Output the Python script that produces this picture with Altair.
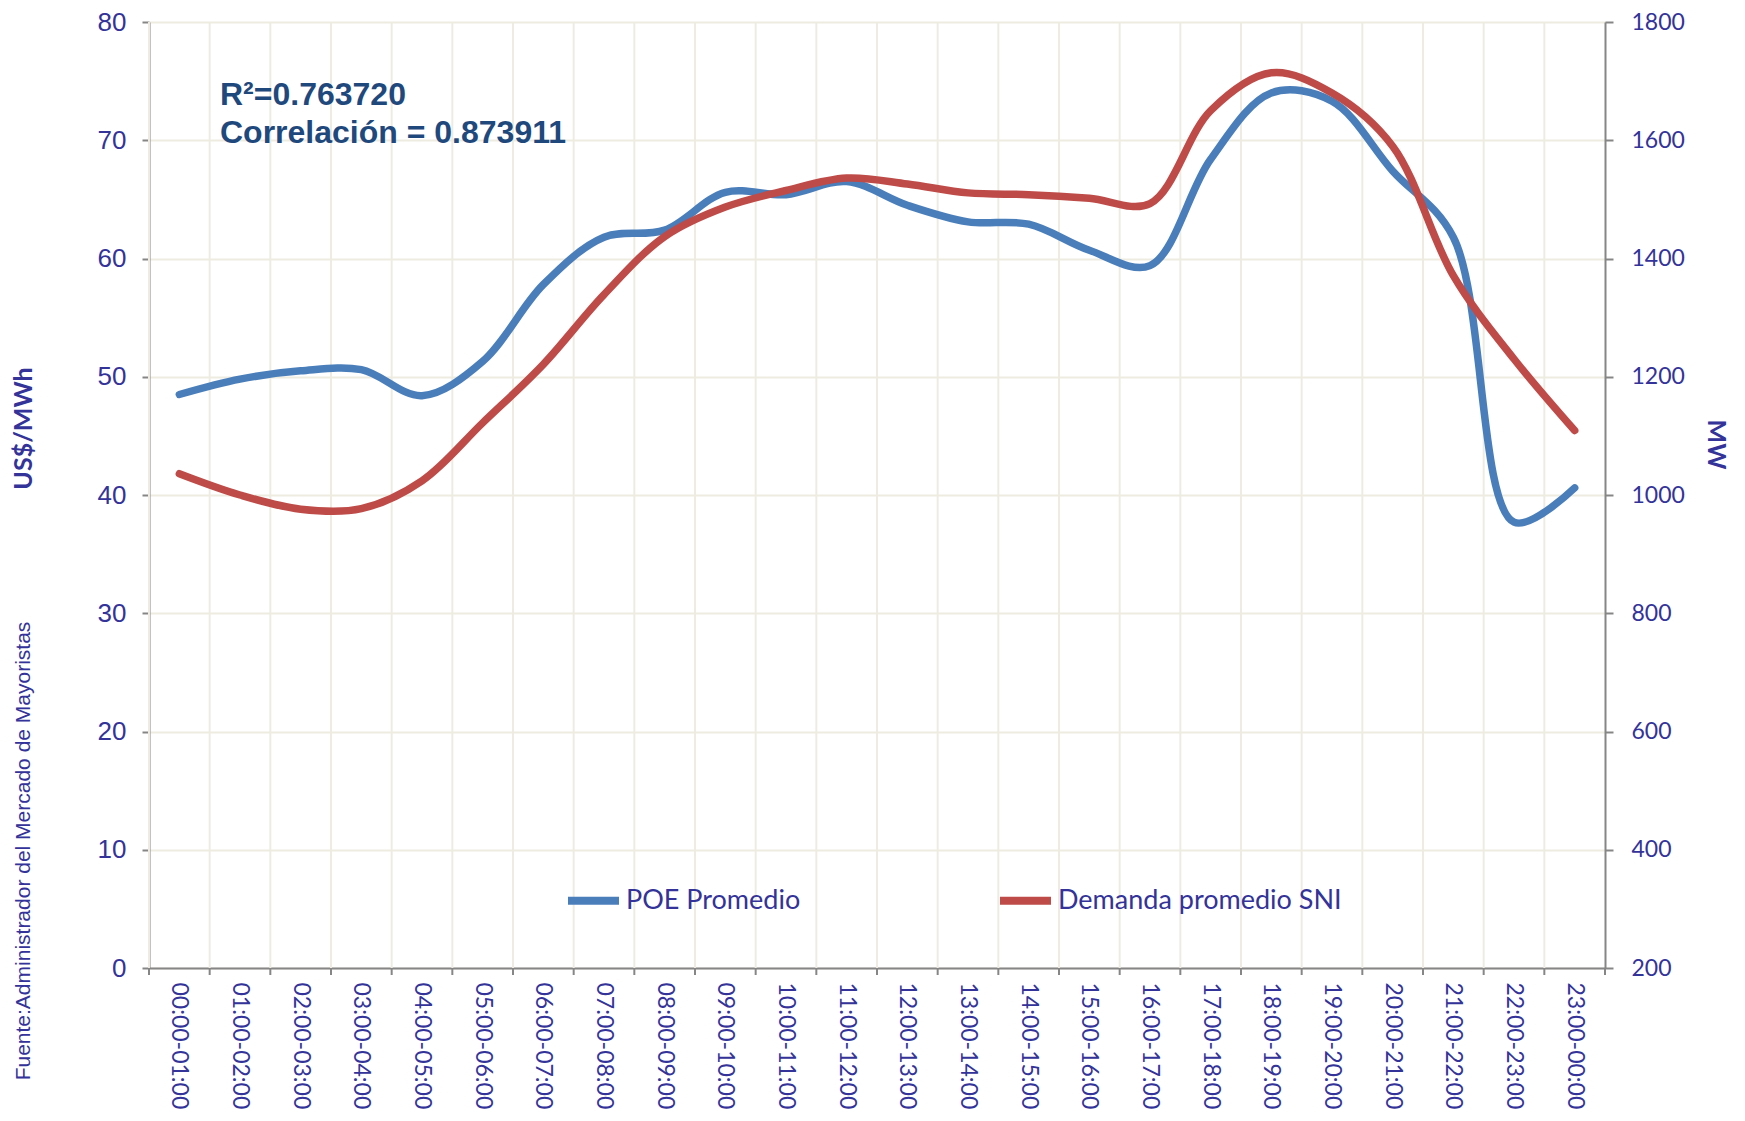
import altair as alt
import pandas as pd

hours = ["00:00-01:00", "01:00-02:00", "02:00-03:00", "03:00-04:00", "04:00-05:00",
         "05:00-06:00", "06:00-07:00", "07:00-08:00", "08:00-09:00", "09:00-10:00",
         "10:00-11:00", "11:00-12:00", "12:00-13:00", "13:00-14:00", "14:00-15:00",
         "15:00-16:00", "16:00-17:00", "17:00-18:00", "18:00-19:00", "19:00-20:00",
         "20:00-21:00", "21:00-22:00", "22:00-23:00", "23:00-00:00"]

poe = [48.5, 49.8, 50.5, 50.6, 48.4, 51.3, 57.8, 61.8, 62.4, 65.6, 65.4, 66.5,
       64.5, 63.1, 62.9, 60.7, 59.4, 68.4, 74.0, 73.3, 67.4, 61.8, 37.7, 40.6]

demanda = [1036, 1000, 976, 977, 1024, 1122, 1221, 1339, 1437, 1487, 1515, 1536,
           1526, 1511, 1508, 1502, 1493, 1650, 1714, 1680, 1590, 1371, 1230, 1109]

series = ["POE Promedio", "Demanda promedio SNI"]
annotation = ["R\u00b2=0.763720", "Correlaci\u00f3n = 0.873911"]
source = "Fuente:Administrador del Mercado de Mayoristas"

W, H = 1456, 946
TXT = "#333399"
GRID = "#EEECE1"
AX = "#868686"

df_poe = pd.DataFrame({"hora": hours, "valor": poe, "serie": series[0]})
df_dem = pd.DataFrame({"hora": hours, "valor": demanda, "serie": series[1]})
df_h = pd.DataFrame({"hora": hours})

xscale = alt.Scale(type="band", domain=hours, paddingInner=0, paddingOuter=0)
xaxis = alt.Axis(orient="bottom", title=None, labelAngle=90, labelFont="Lato",
                 labelFontSize=23, labelColor=TXT, labelPadding=14, labelLimit=300,
                 ticks=False, grid=False, domainColor=AX, domainWidth=2)

color = alt.Color(
    "serie:N",
    scale=alt.Scale(domain=series, range=["#4A7EBB", "#BE4B48"]),
    legend=alt.Legend(orient="none", legendX=415, legendY=849, direction="horizontal",
                      title=None, symbolType="stroke", symbolStrokeWidth=8,
                      symbolSize=2600, labelFont="Lato", labelFontSize=27,
                      labelColor=TXT, labelOffset=3, labelLimit=0,
                      columnPadding=183, padding=0),
)

grid_x = alt.Chart(df_h).mark_rule(color=GRID, strokeWidth=2).encode(
    x=alt.X("hora:N", scale=xscale, axis=xaxis, bandPosition=0),
    y=alt.value(0), y2=alt.value(H),
)
ticks_x = alt.Chart(df_h).mark_rule(color=AX, strokeWidth=2).encode(
    x=alt.X("hora:N", scale=xscale, axis=xaxis, bandPosition=0),
    y=alt.value(H), y2=alt.value(H + 7),
)
tick_end = alt.Chart(df_h.head(1)).mark_rule(color=AX, strokeWidth=2).encode(
    x=alt.value(W), y=alt.value(H), y2=alt.value(H + 7),
)

line_poe = alt.Chart(df_poe).mark_line(
    strokeWidth=7.5, strokeCap="round", strokeJoin="round", interpolate="catmull-rom"
).encode(
    x=alt.X("hora:N", scale=xscale, axis=xaxis),
    y=alt.Y("valor:Q", scale=alt.Scale(domain=[0, 80], nice=False),
            axis=alt.Axis(orient="left", values=list(range(0, 81, 10)),
                          labelFont="Liberation Sans", labelFontSize=26, labelColor=TXT,
                          labelPadding=16, tickColor=AX, tickSize=7, tickWidth=2,
                          domainColor=AX, domainWidth=2, grid=True, gridColor=GRID,
                          gridWidth=2, title="US$/MWh", titleFont="Lato",
                          titleFontWeight="bold", titleFontSize=25, titleColor=TXT,
                          titleX=-126, titleY=406, titleAngle=270,
                          titleBaseline="middle", titleAlign="center")),
    color=color,
)

line_dem = alt.Chart(df_dem).mark_line(
    strokeWidth=7.5, strokeCap="round", strokeJoin="round", interpolate="catmull-rom"
).encode(
    x=alt.X("hora:N", scale=xscale, axis=xaxis),
    y=alt.Y("valor:Q", scale=alt.Scale(domain=[200, 1800], nice=False),
            axis=alt.Axis(orient="right", values=list(range(200, 1801, 200)),
                          format="d",
                          labelFont="Lato", labelFontSize=23, labelColor=TXT,
                          labelPadding=18, tickColor=AX, tickSize=8, tickWidth=2,
                          domainColor=AX, domainWidth=2, grid=False,
                          title="MW", titleFont="Lato", titleFontWeight="bold",
                          titleFontSize=25, titleColor=TXT, titleX=110, titleY=422,
                          titleAngle=90, titleBaseline="middle", titleAlign="center")),
    color=color,
)

ann1 = alt.Chart(pd.DataFrame({"t": [annotation[0]]})).mark_text(
    font="Liberation Sans", fontWeight="bold", fontSize=32, color="#1F497D",
    align="left", baseline="alphabetic"
).encode(text="t:N", x=alt.value(71), y=alt.value(83))
ann2 = alt.Chart(pd.DataFrame({"t": [annotation[1]]})).mark_text(
    font="Liberation Sans", fontWeight="bold", fontSize=32, color="#1F497D",
    align="left", baseline="alphabetic"
).encode(text="t:N", x=alt.value(71), y=alt.value(121))

src = alt.Chart(pd.DataFrame({"t": [source]})).mark_text(
    font="Liberation Sans", fontSize=21, color=TXT, angle=270,
    align="center", baseline="middle"
).encode(text="t:N", x=alt.value(-125), y=alt.value(829))

chart = alt.layer(
    grid_x, ticks_x, tick_end, line_poe, line_dem, ann1, ann2, src
).resolve_scale(y="independent").properties(
    width=W, height=H,
    autosize=alt.AutoSizeParams(type="none"),
    padding={"left": 141, "top": 14, "right": 130, "bottom": 142},
).configure_view(stroke=None).configure(background="white")

chart.save("out.html", embed_options={"renderer": "svg", "actions": False})
